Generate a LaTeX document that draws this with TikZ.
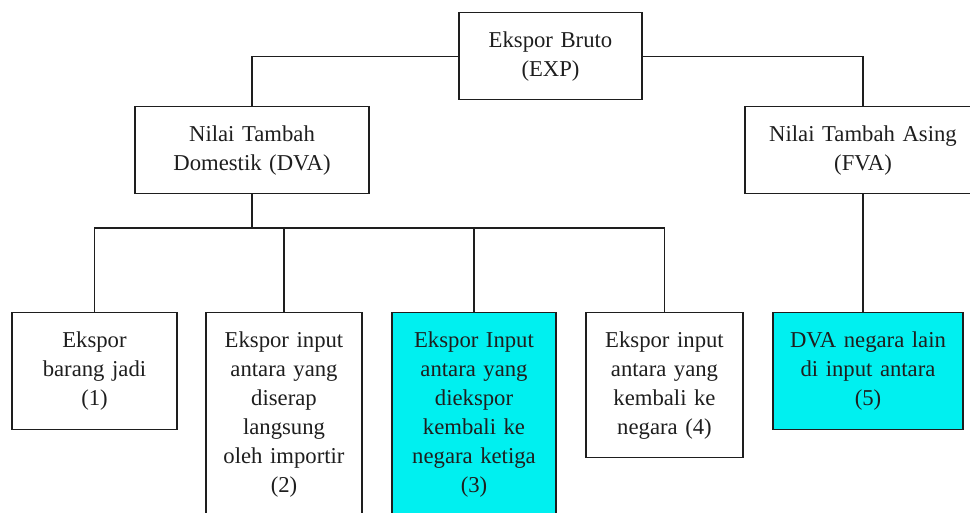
\documentclass[tikz,border=0pt]{standalone}
\usepackage{fontspec}
\setmainfont{Liberation Serif}
\definecolor{hicyan}{RGB}{0,240,240}
\definecolor{ink}{RGB}{30,30,30}
\begin{document}
\begin{tikzpicture}[x=1pt,y=-1pt,
  box/.style={draw=ink, line width=1.2pt, align=center, inner sep=0pt,
    anchor=north, font=\fontsize{22.7}{29}\selectfont, text=ink},
  hi/.style={fill=hicyan},
  conn/.style={draw=ink, line width=1.2pt}]
\useasboundingbox (0,0) rectangle (970,512);
\clip (0,0) rectangle (970,512);
\node[box, text width=183pt, minimum height=87pt] (exp) at (550.5,12) {Ekspor Bruto\\(EXP)};
\node[box, text width=234pt, minimum height=87pt] (dva) at (252,106) {Nilai Tambah\\Domestik (DVA)};
\node[box, text width=236pt, minimum height=87pt] (fva) at (863,106) {Nilai Tambah Asing\\(FVA)};
\node[box, text width=165pt, minimum height=117pt] (b1) at (94.5,312) {Ekspor\\barang jadi\\(1)};
\node[box, text width=156pt, minimum height=204pt] (b2) at (284,312) {Ekspor input\\antara yang\\diserap\\langsung\\oleh importir\\(2)};
\node[box, hi, text width=164pt, minimum height=204pt] (b3) at (474,312) {Ekspor Input\\antara yang\\diekspor\\kembali ke\\negara ketiga\\(3)};
\node[box, text width=157pt, minimum height=145pt] (b4) at (664.5,312) {Ekspor input\\antara yang\\kembali ke\\negara (4)};
\node[box, hi, text width=190pt, minimum height=117pt] (b5) at (868,312) {DVA negara lain\\di input antara\\(5)};
\coordinate (bus) at (252,228);
\draw[conn] (exp.west) -| (dva.north);
\draw[conn] (exp.east) -| (fva.north);
\draw[conn] (dva.south) -- (bus);
\draw[conn] (b1.north) -- (b1.north |- bus) -- (b4.north |- bus) -- (b4.north);
\draw[conn] (b2.north) -- (b2.north |- bus);
\draw[conn] (b3.north) -- (b3.north |- bus);
\draw[conn] (fva.south) -- (fva.south |- b5.north);
\end{tikzpicture}
\end{document}
